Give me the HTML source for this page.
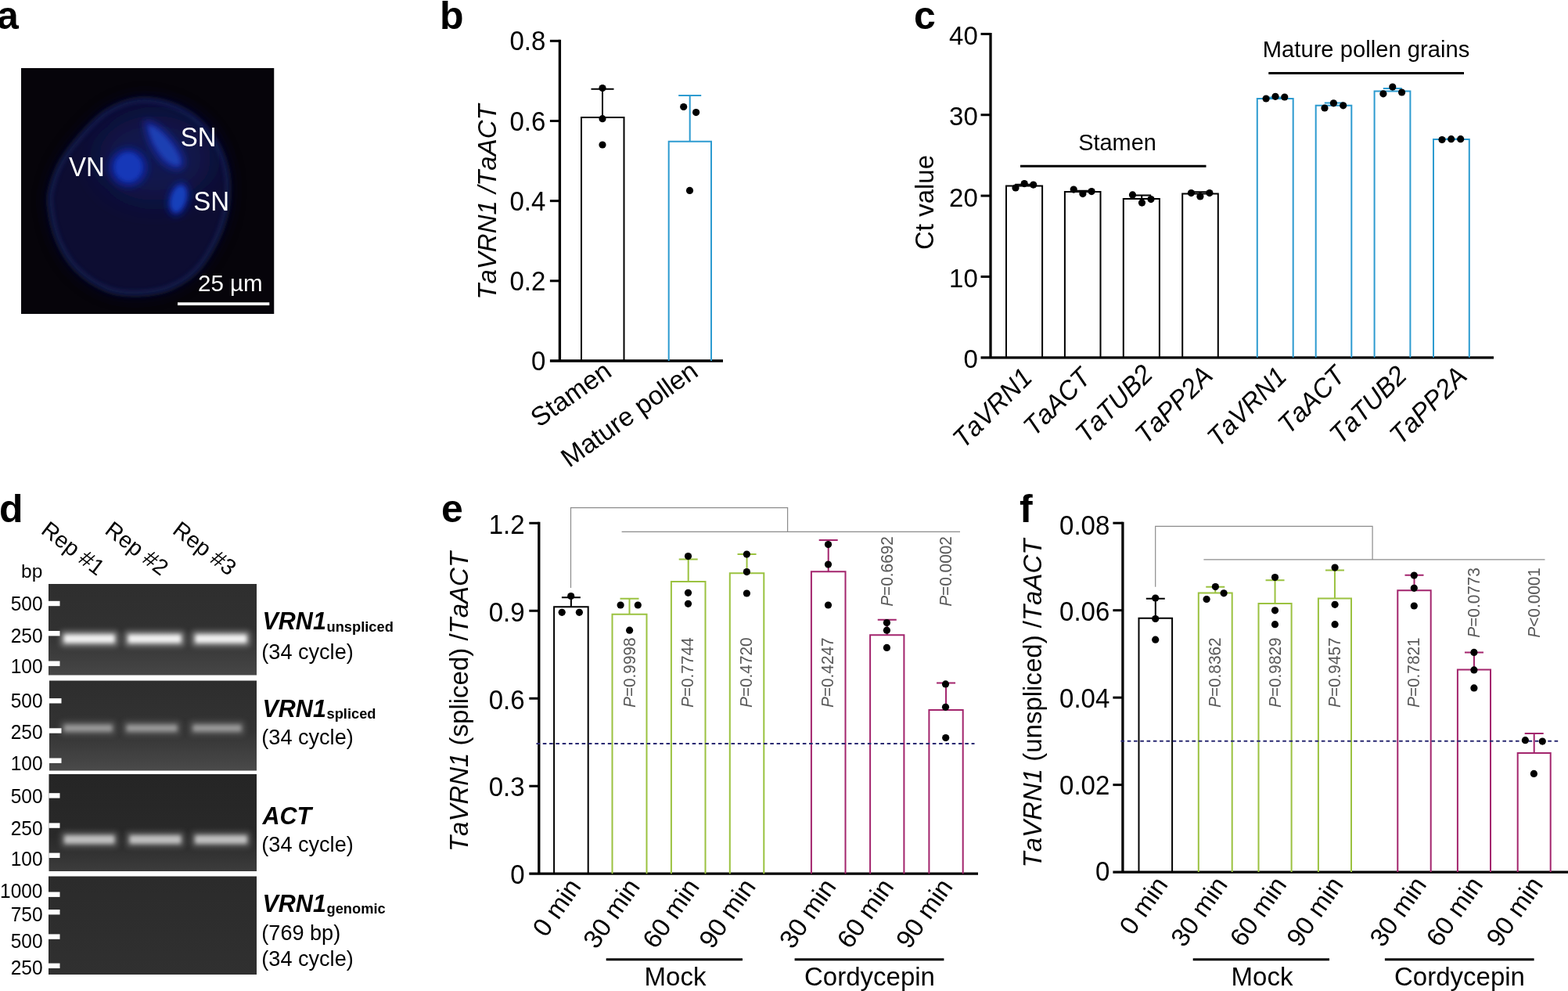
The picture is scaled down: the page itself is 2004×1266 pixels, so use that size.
<!DOCTYPE html>
<html lang="en">
<head>
<meta charset="utf-8">
<title>Figure</title>
<style>
html,body{margin:0;padding:0;background:#fff;}
body{width:2004px;height:1266px;overflow:hidden;}
svg{display:block;font-family:"Liberation Sans", Arial, Helvetica, sans-serif;}
svg text{font-family:"Liberation Sans", Arial, Helvetica, sans-serif;font-kerning:none;}
</style>
</head>
<body>
<svg width="2004" height="1266" viewBox="0 0 2004 1266">
<rect width="2004" height="1266" fill="#fff"/>
<defs>
<filter id="bl2" x="-50%" y="-50%" width="200%" height="200%"><feGaussianBlur stdDeviation="2"/></filter>
<filter id="bl3" x="-50%" y="-50%" width="200%" height="200%"><feGaussianBlur stdDeviation="3.2"/></filter>
<filter id="bl5" x="-50%" y="-50%" width="200%" height="200%"><feGaussianBlur stdDeviation="5"/></filter>
<filter id="bl8" x="-50%" y="-50%" width="200%" height="200%"><feGaussianBlur stdDeviation="9"/></filter>
<filter id="bl16" x="-100%" y="-100%" width="300%" height="300%"><feGaussianBlur stdDeviation="18"/></filter>
<filter id="bl25" x="-50%" y="-50%" width="200%" height="200%"><feGaussianBlur stdDeviation="2.6"/></filter>
<filter id="bl1" x="-50%" y="-50%" width="200%" height="200%"><feGaussianBlur stdDeviation="1.2"/></filter>
<radialGradient id="cellg" cx="0.5" cy="0.55" r="0.52">
<stop offset="0" stop-color="#0b1036"/><stop offset="1" stop-color="#10164a"/>
</radialGradient>
<linearGradient id="gel1" x1="0" y1="0" x2="0" y2="1"><stop offset="0" stop-color="#2e2e2e"/><stop offset="0.5" stop-color="#313131"/><stop offset="1" stop-color="#464646"/></linearGradient>
<linearGradient id="gel2" x1="0" y1="0" x2="0" y2="1"><stop offset="0" stop-color="#2d2d2d"/><stop offset="0.55" stop-color="#333333"/><stop offset="1" stop-color="#4a4a4a"/></linearGradient>
<linearGradient id="gel3" x1="0" y1="0" x2="0" y2="1"><stop offset="0" stop-color="#252525"/><stop offset="0.65" stop-color="#292929"/><stop offset="1" stop-color="#3c3c3c"/></linearGradient>
<linearGradient id="gel4" x1="0" y1="0" x2="0" y2="1"><stop offset="0" stop-color="#2b2b2b"/><stop offset="1" stop-color="#303030"/></linearGradient>
<clipPath id="clipA"><rect x="27" y="87" width="323.5" height="314"/></clipPath>
<clipPath id="clipG1"><rect x="62" y="746" width="266" height="116.5"/></clipPath>
<clipPath id="clipG2"><rect x="63" y="869.5" width="265" height="115"/></clipPath>
<clipPath id="clipG3"><rect x="62.5" y="989" width="265.5" height="124"/></clipPath>
<clipPath id="clipG4"><rect x="62" y="1119.5" width="266" height="125.5"/></clipPath>
</defs>
<text x="-4" y="36.5" font-size="50" font-weight="bold">a</text>
<text x="562" y="36.5" font-size="50" font-weight="bold">b</text>
<text x="1168" y="36.5" font-size="50" font-weight="bold">c</text>
<text x="-1" y="666.5" font-size="50" font-weight="bold">d</text>
<text x="564" y="666.5" font-size="50" font-weight="bold">e</text>
<text x="1303" y="666.5" font-size="50" font-weight="bold">f</text>
<g clip-path="url(#clipA)">
<rect x="27" y="87" width="323.5" height="314" fill="#06040a"/>
<path d="M176.5 128.2C189.9 126.8 205.0 129.4 218.0 134.0C231.0 138.6 244.2 145.9 254.7 155.6C265.2 165.3 274.7 178.5 280.8 192.0C286.9 205.5 290.8 220.4 291.2 236.5C291.6 252.6 289.5 271.2 283.4 288.6C277.3 306.0 265.6 327.8 254.7 340.8C243.8 353.8 231.2 361.2 218.2 366.8C205.2 372.4 190.0 374.3 176.5 374.7C163.0 375.1 150.4 374.6 137.3 369.4C124.3 364.2 108.6 353.8 98.2 343.4C87.8 333.0 80.5 320.3 74.8 306.8C69.1 293.3 65.6 274.2 64.3 262.5C63.0 250.8 64.4 246.1 67.0 236.5C69.6 226.9 73.5 216.1 80.0 205.2C86.5 194.3 96.5 181.7 106.0 171.3C115.5 160.9 125.6 149.8 137.3 142.6C149.1 135.4 163.1 129.6 176.5 128.2Z" fill="#0a0e32" stroke="#0a0e32" stroke-width="10" filter="url(#bl8)" opacity="0.7"/>
<path d="M176.5 128.2C189.9 126.8 205.0 129.4 218.0 134.0C231.0 138.6 244.2 145.9 254.7 155.6C265.2 165.3 274.7 178.5 280.8 192.0C286.9 205.5 290.8 220.4 291.2 236.5C291.6 252.6 289.5 271.2 283.4 288.6C277.3 306.0 265.6 327.8 254.7 340.8C243.8 353.8 231.2 361.2 218.2 366.8C205.2 372.4 190.0 374.3 176.5 374.7C163.0 375.1 150.4 374.6 137.3 369.4C124.3 364.2 108.6 353.8 98.2 343.4C87.8 333.0 80.5 320.3 74.8 306.8C69.1 293.3 65.6 274.2 64.3 262.5C63.0 250.8 64.4 246.1 67.0 236.5C69.6 226.9 73.5 216.1 80.0 205.2C86.5 194.3 96.5 181.7 106.0 171.3C115.5 160.9 125.6 149.8 137.3 142.6C149.1 135.4 163.1 129.6 176.5 128.2Z" fill="#0a0f33" filter="url(#bl2)"/>
<path d="M176.5 128.2C189.9 126.8 205.0 129.4 218.0 134.0C231.0 138.6 244.2 145.9 254.7 155.6C265.2 165.3 274.7 178.5 280.8 192.0C286.9 205.5 290.8 220.4 291.2 236.5C291.6 252.6 289.5 271.2 283.4 288.6C277.3 306.0 265.6 327.8 254.7 340.8C243.8 353.8 231.2 361.2 218.2 366.8C205.2 372.4 190.0 374.3 176.5 374.7C163.0 375.1 150.4 374.6 137.3 369.4C124.3 364.2 108.6 353.8 98.2 343.4C87.8 333.0 80.5 320.3 74.8 306.8C69.1 293.3 65.6 274.2 64.3 262.5C63.0 250.8 64.4 246.1 67.0 236.5C69.6 226.9 73.5 216.1 80.0 205.2C86.5 194.3 96.5 181.7 106.0 171.3C115.5 160.9 125.6 149.8 137.3 142.6C149.1 135.4 163.1 129.6 176.5 128.2Z" fill="none" stroke="#1d2968" stroke-width="4" filter="url(#bl3)" opacity="0.85"/>
<g filter="url(#bl16)"><ellipse cx="198" cy="202" rx="72" ry="54" fill="#1a2468" opacity="0.5"/></g>
<g filter="url(#bl5)">
<ellipse cx="164" cy="214" rx="25" ry="25" fill="#10259a" opacity="0.9"/>
<path d="M188 158 Q203 160 222 185 Q236 204 231 212 Q222 217 207 203 Q190 182 188 158Z" fill="#152a9c" opacity="0.9" stroke="#152a9c" stroke-width="8"/>
<ellipse cx="228" cy="254" rx="22" ry="13" fill="#10259a" opacity="0.9" transform="rotate(-75 228 254)"/>
</g>
<g filter="url(#bl25)">
<ellipse cx="164" cy="213.5" rx="17.5" ry="18.5" fill="#1238b8"/>
<path d="M190 161 Q203 163 220 186 Q232 203 229 210 Q222 214 209 201 Q193 182 190 161Z" fill="#1c40b2"/>
<ellipse cx="228" cy="254" rx="17" ry="9" fill="#1640ba" transform="rotate(-75 228 254)"/>
</g>
</g>
<text font-size="33" fill="#fff" transform="translate(230.8 186.8) scale(1 1.04)">SN</text>
<text font-size="33" fill="#fff" transform="translate(88 224.5) scale(1 1.04)">VN</text>
<text font-size="33" fill="#fff" transform="translate(247.2 269.2) scale(1 1.04)">SN</text>
<text x="253" y="372.3" font-size="29.5" fill="#fff">25 µm</text>
<rect x="227" y="386.3" width="117.3" height="3.8" fill="#fff"/>
<path d="M715.4 50.8V461" stroke="#000" stroke-width="3.3" fill="none"/>
<text font-size="33" text-anchor="end" transform="translate(697.3 473.0) scale(1 1.04)">0</text>
<line x1="702.9" y1="358.825" x2="715.4" y2="358.825" stroke="#000" stroke-width="3" />
<text font-size="33" text-anchor="end" transform="translate(697.3 370.8) scale(1 1.04)">0.2</text>
<line x1="702.9" y1="256.65" x2="715.4" y2="256.65" stroke="#000" stroke-width="3" />
<text font-size="33" text-anchor="end" transform="translate(697.3 268.6) scale(1 1.04)">0.4</text>
<line x1="702.9" y1="154.47500000000002" x2="715.4" y2="154.47500000000002" stroke="#000" stroke-width="3" />
<text font-size="33" text-anchor="end" transform="translate(697.3 166.5) scale(1 1.04)">0.6</text>
<line x1="702.9" y1="52.30000000000001" x2="715.4" y2="52.30000000000001" stroke="#000" stroke-width="3" />
<text font-size="33" text-anchor="end" transform="translate(697.3 64.3) scale(1 1.04)">0.8</text>
<line x1="702.9" y1="461" x2="924" y2="461" stroke="#000" stroke-width="3.3" />
<path d="M743 461V150H797.5V461" fill="none" stroke="#000" stroke-width="2"/>
<path d="M854.7 461V180.7H909V461" fill="none" stroke="#2d9bd0" stroke-width="2"/>
<path d="M755.5 113.7H784.5M770 113.7V150" fill="none" stroke="#000" stroke-width="2"/>
<path d="M867.2 122H896.2M881.7 122V180.7" fill="none" stroke="#2d9bd0" stroke-width="2"/>
<circle cx="770" cy="112.5" r="4.6"/>
<circle cx="770" cy="151.7" r="4.6"/>
<circle cx="770" cy="185" r="4.6"/>
<circle cx="873.7" cy="136.5" r="4.6"/>
<circle cx="889.6" cy="143.6" r="4.6"/>
<circle cx="881.5" cy="243.4" r="4.6"/>
<text transform="translate(633.5 258) rotate(-90) scale(1 1.035)" text-anchor="middle" font-size="33"><tspan font-style="italic">TaVRN1 /TaACT</tspan></text>
<text font-size="33.8" text-anchor="end" transform="translate(783.7 479) rotate(-35.5)">Stamen</text>
<text font-size="33.8" text-anchor="end" transform="translate(894.2 479) rotate(-35.5)">Mature pollen</text>
<path d="M1266 41.9V456.8" stroke="#000" stroke-width="3.3" fill="none"/>
<text font-size="33" text-anchor="end" transform="translate(1249.8 470.2) scale(1 1.01)">0</text>
<line x1="1253.5" y1="353.45" x2="1266" y2="353.45" stroke="#000" stroke-width="3" />
<text font-size="33" text-anchor="end" transform="translate(1249.8 366.8) scale(1 1.01)">10</text>
<line x1="1253.5" y1="250.1" x2="1266" y2="250.1" stroke="#000" stroke-width="3" />
<text font-size="33" text-anchor="end" transform="translate(1249.8 263.5) scale(1 1.01)">20</text>
<line x1="1253.5" y1="146.75" x2="1266" y2="146.75" stroke="#000" stroke-width="3" />
<text font-size="33" text-anchor="end" transform="translate(1249.8 160.2) scale(1 1.01)">30</text>
<line x1="1253.5" y1="43.39999999999998" x2="1266" y2="43.39999999999998" stroke="#000" stroke-width="3" />
<text font-size="33" text-anchor="end" transform="translate(1249.8 56.8) scale(1 1.01)">40</text>
<line x1="1253.5" y1="456.8" x2="1909" y2="456.8" stroke="#000" stroke-width="3.3" />
<path d="M1286 456.8V237.6H1332.1V456.8" fill="none" stroke="#000" stroke-width="2"/>
<path d="M1360.9 456.8V245.1H1406.5V456.8" fill="none" stroke="#000" stroke-width="2"/>
<path d="M1435.8 456.8V254.1H1481.9V456.8" fill="none" stroke="#000" stroke-width="2"/>
<path d="M1511.2 456.8V247.6H1556.8V456.8" fill="none" stroke="#000" stroke-width="2"/>
<path d="M1606.8 456.8V126H1652.7V456.8" fill="none" stroke="#2d9bd0" stroke-width="2"/>
<path d="M1681.7 456.8V134.8H1727.3V456.8" fill="none" stroke="#2d9bd0" stroke-width="2"/>
<path d="M1756.6 456.8V116.6H1802.4V456.8" fill="none" stroke="#2d9bd0" stroke-width="2"/>
<path d="M1832 456.8V178H1877.8V456.8" fill="none" stroke="#2d9bd0" stroke-width="2"/>
<path d="M1297.3 235.8H1321.3M1309.3 235.8V237.6" fill="none" stroke="#000" stroke-width="2"/>
<path d="M1372 243.8H1396M1384 243.8V245.1" fill="none" stroke="#000" stroke-width="2"/>
<path d="M1447.2 249.5H1471.2M1459.2 249.5V254.1" fill="none" stroke="#000" stroke-width="2"/>
<path d="M1522.3 245.3H1546.3M1534.3 245.3V247.6" fill="none" stroke="#000" stroke-width="2"/>
<path d="M1618 124.5H1642M1630 124.5V126" fill="none" stroke="#2d9bd0" stroke-width="2"/>
<path d="M1692.8 131.5H1716.8M1704.8 131.5V134.8" fill="none" stroke="#2d9bd0" stroke-width="2"/>
<path d="M1767.8 113H1791.8M1779.8 113V116.6" fill="none" stroke="#2d9bd0" stroke-width="2"/>
<path d="M1843.2 177.5H1867.2M1855.2 177.5V178" fill="none" stroke="#2d9bd0" stroke-width="2"/>
<circle cx="1298" cy="240" r="4.6"/>
<circle cx="1309.2" cy="234.6" r="4.6"/>
<circle cx="1320.7" cy="236.1" r="4.6"/>
<circle cx="1372.2" cy="242.1" r="4.6"/>
<circle cx="1383.9" cy="247.6" r="4.6"/>
<circle cx="1395.1" cy="244.6" r="4.6"/>
<circle cx="1447.5" cy="248.9" r="4.6"/>
<circle cx="1459.5" cy="259.1" r="4.6"/>
<circle cx="1471" cy="254.6" r="4.6"/>
<circle cx="1522.4" cy="246.6" r="4.6"/>
<circle cx="1533.9" cy="250.9" r="4.6"/>
<circle cx="1545.9" cy="246.6" r="4.6"/>
<circle cx="1618.1" cy="126" r="4.6"/>
<circle cx="1630" cy="123.3" r="4.6"/>
<circle cx="1641.8" cy="124" r="4.6"/>
<circle cx="1693" cy="138" r="4.6"/>
<circle cx="1704.4" cy="131.8" r="4.6"/>
<circle cx="1716.7" cy="134.8" r="4.6"/>
<circle cx="1767.9" cy="119.8" r="4.6"/>
<circle cx="1779.8" cy="111" r="4.6"/>
<circle cx="1791.6" cy="118" r="4.6"/>
<circle cx="1843" cy="178.5" r="4.6"/>
<circle cx="1854.7" cy="177.7" r="4.6"/>
<circle cx="1866.7" cy="177.7" r="4.6"/>
<text x="1428" y="191.7" font-size="28.9" text-anchor="middle">Stamen</text>
<line x1="1304" y1="212.2" x2="1541.5" y2="212.2" stroke="#000" stroke-width="3" />
<text x="1746" y="73.2" font-size="29.2" text-anchor="middle">Mature pollen grains</text>
<line x1="1621.3" y1="93.6" x2="1871" y2="93.6" stroke="#000" stroke-width="3" />
<text transform="translate(1193.3 258.5) rotate(-90) scale(1 1.03)" text-anchor="middle" font-size="33">Ct value</text>
<text font-size="33" text-anchor="end" font-style="italic" transform="translate(1321.2 484.6) rotate(-45) scale(1 1.04)">TaVRN1</text>
<text font-size="33" text-anchor="end" font-style="italic" transform="translate(1395.9 484.6) rotate(-45) scale(1 1.04)">TaACT</text>
<text font-size="33" text-anchor="end" font-style="italic" transform="translate(1475.3 480.3) rotate(-45) scale(1 1.04)">TaTUB2</text>
<text font-size="33" text-anchor="end" font-style="italic" transform="translate(1551.7 481.9) rotate(-45) scale(1 1.04)">TaPP2A</text>
<text font-size="33" text-anchor="end" font-style="italic" transform="translate(1646.5 483.1) rotate(-45) scale(1 1.04)">TaVRN1</text>
<text font-size="33" text-anchor="end" font-style="italic" transform="translate(1721.1 482.0) rotate(-45) scale(1 1.04)">TaACT</text>
<text font-size="33" text-anchor="end" font-style="italic" transform="translate(1800.1 481.8) rotate(-45) scale(1 1.04)">TaTUB2</text>
<text font-size="33" text-anchor="end" font-style="italic" transform="translate(1876.9 482.5) rotate(-45) scale(1 1.04)">TaPP2A</text>
<rect x="62" y="746" width="266" height="116.5" fill="url(#gel1)"/>
<rect x="63" y="869.5" width="265" height="115" fill="url(#gel2)"/>
<rect x="62.5" y="989" width="265.5" height="124" fill="url(#gel3)"/>
<rect x="62" y="1119.5" width="266" height="125.5" fill="url(#gel4)"/>
<g clip-path="url(#clipG1)">
<rect x="76.6" y="805.5" width="75.1" height="21.0" rx="5" fill="#999" opacity="0.6" filter="url(#bl3)"/>
<rect x="81.6" y="810.5" width="65.1" height="11.0" rx="3" fill="#f0f0f0" opacity="1.0" filter="url(#bl25)"/>
<rect x="158.5" y="805.5" width="78.1" height="21.0" rx="5" fill="#999" opacity="0.6" filter="url(#bl3)"/>
<rect x="163.5" y="810.5" width="68.1" height="11.0" rx="3" fill="#f0f0f0" opacity="1.0" filter="url(#bl25)"/>
<rect x="244.4" y="805.5" width="76.1" height="21.0" rx="5" fill="#999" opacity="0.6" filter="url(#bl3)"/>
<rect x="249.4" y="810.5" width="66.1" height="11.0" rx="3" fill="#f0f0f0" opacity="1.0" filter="url(#bl25)"/>
</g>
<g clip-path="url(#clipG2)">
<rect x="76.6" y="920.8" width="72.1" height="19.0" rx="5" fill="#666" opacity="0.54" filter="url(#bl3)"/>
<rect x="81.6" y="925.8" width="62.099999999999994" height="9.0" rx="3" fill="#a0a0a0" opacity="0.9" filter="url(#bl25)"/>
<rect x="156.6" y="920.8" width="75.0" height="19.0" rx="5" fill="#666" opacity="0.54" filter="url(#bl3)"/>
<rect x="161.6" y="925.8" width="65.0" height="9.0" rx="3" fill="#a0a0a0" opacity="0.9" filter="url(#bl25)"/>
<rect x="241.4" y="920.8" width="72.20000000000002" height="19.0" rx="5" fill="#666" opacity="0.54" filter="url(#bl3)"/>
<rect x="246.4" y="925.8" width="62.20000000000002" height="9.0" rx="3" fill="#a0a0a0" opacity="0.9" filter="url(#bl25)"/>
</g>
<g clip-path="url(#clipG3)">
<rect x="77" y="1062.0" width="74.5" height="21.0" rx="5" fill="#707070" opacity="0.57" filter="url(#bl3)"/>
<rect x="82" y="1067.0" width="64.5" height="11.0" rx="3" fill="#c4c4c4" opacity="0.95" filter="url(#bl25)"/>
<rect x="160.5" y="1062.0" width="76.0" height="21.0" rx="5" fill="#707070" opacity="0.57" filter="url(#bl3)"/>
<rect x="165.5" y="1067.0" width="66.0" height="11.0" rx="3" fill="#c4c4c4" opacity="0.95" filter="url(#bl25)"/>
<rect x="244" y="1062.0" width="77" height="21.0" rx="5" fill="#707070" opacity="0.57" filter="url(#bl3)"/>
<rect x="249" y="1067.0" width="67" height="11.0" rx="3" fill="#c4c4c4" opacity="0.95" filter="url(#bl25)"/>
</g>
<rect x="62" y="767.8" width="14.5" height="6.4" fill="#fff"/>
<text font-size="24.5" text-anchor="end" transform="translate(54.5 779.8) scale(1 1.04)">500</text>
<rect x="62" y="806.0" width="14.5" height="6.4" fill="#fff"/>
<text font-size="24.5" text-anchor="end" transform="translate(54.5 820.9) scale(1 1.04)">250</text>
<rect x="62" y="844.5" width="14.5" height="6.4" fill="#fff"/>
<text font-size="24.5" text-anchor="end" transform="translate(54.5 859.6) scale(1 1.04)">100</text>
<rect x="63" y="892.0999999999999" width="15.5" height="6.4" fill="#fff"/>
<text font-size="24.5" text-anchor="end" transform="translate(54.5 903.6) scale(1 1.04)">500</text>
<rect x="63" y="930.3" width="15.5" height="6.4" fill="#fff"/>
<text font-size="24.5" text-anchor="end" transform="translate(54.5 943.5) scale(1 1.04)">250</text>
<rect x="63" y="968.5" width="15.5" height="6.4" fill="#fff"/>
<text font-size="24.5" text-anchor="end" transform="translate(54.5 983.5) scale(1 1.04)">100</text>
<rect x="62.5" y="1013.1999999999999" width="14" height="6.4" fill="#fff"/>
<text font-size="24.5" text-anchor="end" transform="translate(54.5 1026.1) scale(1 1.04)">500</text>
<rect x="62.5" y="1051.3999999999999" width="14" height="6.4" fill="#fff"/>
<text font-size="24.5" text-anchor="end" transform="translate(54.5 1067.3) scale(1 1.04)">250</text>
<rect x="62.5" y="1089.6" width="14" height="6.4" fill="#fff"/>
<text font-size="24.5" text-anchor="end" transform="translate(54.5 1106) scale(1 1.04)">100</text>
<rect x="62" y="1139.5" width="14.5" height="6.4" fill="#fff"/>
<text font-size="24.5" text-anchor="end" transform="translate(54.5 1147.2) scale(1 1.04)">1000</text>
<rect x="62" y="1162.0" width="14.5" height="6.4" fill="#fff"/>
<text font-size="24.5" text-anchor="end" transform="translate(54.5 1177.2) scale(1 1.04)">750</text>
<rect x="62" y="1193.3999999999999" width="14.5" height="6.4" fill="#fff"/>
<text font-size="24.5" text-anchor="end" transform="translate(54.5 1210.9) scale(1 1.04)">500</text>
<rect x="62" y="1230.6" width="14.5" height="6.4" fill="#fff"/>
<text font-size="24.5" text-anchor="end" transform="translate(54.5 1244.6) scale(1 1.04)">250</text>
<text x="27" y="737.5" font-size="24.5">bp</text>
<text font-size="28.6" transform="translate(50.9 680.3) rotate(37.5)">Rep #1</text>
<text font-size="28.6" transform="translate(132.5 680.3) rotate(37.5)">Rep #2</text>
<text font-size="28.6" transform="translate(219.1 680.3) rotate(37.5)">Rep #3</text>
<text transform="translate(335.5 804.3) scale(1 1.04)" font-size="30.5" font-weight="bold"><tspan font-style="italic">VRN1</tspan><tspan font-size="18.3" dy="2.3" dx="0.7">unspliced</tspan></text>
<text x="334.3" y="842.4" font-size="27.1">(34 cycle)</text>
<text transform="translate(335.5 916) scale(1 1.04)" font-size="30.5" font-weight="bold"><tspan font-style="italic">VRN1</tspan><tspan font-size="18.3" dy="2.3" dx="0.7">spliced</tspan></text>
<text x="334.3" y="950.7" font-size="27.1">(34 cycle)</text>
<text transform="translate(335.5 1052.6) scale(1 1.04)" font-size="30.5" font-weight="bold"><tspan font-style="italic">ACT</tspan><tspan font-size="18.3" dy="2.3" dx="0.7"></tspan></text>
<text x="334.3" y="1088.0" font-size="27.1">(34 cycle)</text>
<text transform="translate(335.5 1164.7) scale(1 1.04)" font-size="30.5" font-weight="bold"><tspan font-style="italic">VRN1</tspan><tspan font-size="18.3" dy="2.3" dx="0.7">genomic</tspan></text>
<text x="334.3" y="1200.6" font-size="27.1">(769 bp)</text>
<text x="334.3" y="1233.5" font-size="27.1">(34 cycle)</text>
<path d="M688.8 666.8V1116.2" stroke="#000" stroke-width="3.3" fill="none"/>
<text font-size="33" text-anchor="end" transform="translate(670.5 1129.4) scale(1 1.04)">0</text>
<line x1="676.3" y1="1004.225" x2="688.8" y2="1004.225" stroke="#000" stroke-width="3" />
<text font-size="33" text-anchor="end" transform="translate(670.5 1017.4) scale(1 1.04)">0.3</text>
<line x1="676.3" y1="892.25" x2="688.8" y2="892.25" stroke="#000" stroke-width="3" />
<text font-size="33" text-anchor="end" transform="translate(670.5 905.5) scale(1 1.04)">0.6</text>
<line x1="676.3" y1="780.275" x2="688.8" y2="780.275" stroke="#000" stroke-width="3" />
<text font-size="33" text-anchor="end" transform="translate(670.5 793.5) scale(1 1.04)">0.9</text>
<line x1="676.3" y1="668.3" x2="688.8" y2="668.3" stroke="#000" stroke-width="3" />
<text font-size="33" text-anchor="end" transform="translate(670.5 681.5) scale(1 1.04)">1.2</text>
<line x1="676.3" y1="1116.2" x2="1250" y2="1116.2" stroke="#000" stroke-width="3.3" />
<path d="M729.5 751V648.7H1006.6V679.4M794.6 679.4H1227" fill="none" stroke="#8c8c8c" stroke-width="1.2"/>
<path d="M708.1 1116.2V775.3H751.7V1116.2" fill="none" stroke="#000" stroke-width="2"/>
<path d="M717.9000000000001 763.3H741.9000000000001M729.9000000000001 763.3V775.3" fill="none" stroke="#000" stroke-width="2"/>
<path d="M782.5 1116.2V784.8H826.5V1116.2" fill="none" stroke="#9bc240" stroke-width="2"/>
<path d="M792.5 764.8H816.5M804.5 764.8V784.8" fill="none" stroke="#9bc240" stroke-width="2"/>
<path d="M857.9 1116.2V743H901.5V1116.2" fill="none" stroke="#9bc240" stroke-width="2"/>
<path d="M867.7 714.4H891.7M879.7 714.4V743" fill="none" stroke="#9bc240" stroke-width="2"/>
<path d="M932.8 1116.2V732.3H976.3V1116.2" fill="none" stroke="#9bc240" stroke-width="2"/>
<path d="M942.55 707.9H966.55M954.55 707.9V732.3" fill="none" stroke="#9bc240" stroke-width="2"/>
<path d="M1036.9 1116.2V730.3H1080.5V1116.2" fill="none" stroke="#a3256d" stroke-width="2"/>
<path d="M1046.7 690.1H1070.7M1058.7 690.1V730.3" fill="none" stroke="#a3256d" stroke-width="2"/>
<path d="M1112.1 1116.2V811.2H1155.4V1116.2" fill="none" stroke="#a3256d" stroke-width="2"/>
<path d="M1121.75 791.7H1145.75M1133.75 791.7V811.2" fill="none" stroke="#a3256d" stroke-width="2"/>
<path d="M1187.4 1116.2V907H1230.7V1116.2" fill="none" stroke="#a3256d" stroke-width="2"/>
<path d="M1197.0500000000002 872.4H1221.0500000000002M1209.0500000000002 872.4V907" fill="none" stroke="#a3256d" stroke-width="2"/>
<line x1="685.5" y1="950.1" x2="1245.5" y2="950.1" stroke="#2a2a72" stroke-width="2" stroke-dasharray="4.6 3.7"/>
<circle cx="729.7" cy="761.5" r="4.6"/>
<circle cx="718.2" cy="782.3" r="4.6"/>
<circle cx="740.4" cy="782.3" r="4.6"/>
<circle cx="793.1" cy="773" r="4.6"/>
<circle cx="815.3" cy="773" r="4.6"/>
<circle cx="804.6" cy="805.2" r="4.6"/>
<circle cx="879.5" cy="710.6" r="4.6"/>
<circle cx="879.5" cy="757.3" r="4.6"/>
<circle cx="879.5" cy="771.3" r="4.6"/>
<circle cx="954.4" cy="708.1" r="4.6"/>
<circle cx="954.4" cy="730.6" r="4.6"/>
<circle cx="954.4" cy="758" r="4.6"/>
<circle cx="1058.5" cy="695.6" r="4.6"/>
<circle cx="1058.5" cy="721.1" r="4.6"/>
<circle cx="1058.5" cy="773" r="4.6"/>
<circle cx="1133.4" cy="795.5" r="4.6"/>
<circle cx="1133.4" cy="805.2" r="4.6"/>
<circle cx="1133.4" cy="827.4" r="4.6"/>
<circle cx="1208.5" cy="873.9" r="4.6"/>
<circle cx="1208.5" cy="903.3" r="4.6"/>
<circle cx="1208.7" cy="942.5" r="4.6"/>
<text transform="translate(812.0 904) rotate(-90) scale(1 1.04)" font-size="20.8" fill="#5a5a5a"><tspan font-style="italic">P</tspan>=0.9998</text>
<text transform="translate(886.4 904) rotate(-90) scale(1 1.04)" font-size="20.8" fill="#5a5a5a"><tspan font-style="italic">P</tspan>=0.7744</text>
<text transform="translate(960.8 904) rotate(-90) scale(1 1.04)" font-size="20.8" fill="#5a5a5a"><tspan font-style="italic">P</tspan>=0.4720</text>
<text transform="translate(1064.9 904) rotate(-90) scale(1 1.04)" font-size="20.8" fill="#5a5a5a"><tspan font-style="italic">P</tspan>=0.4247</text>
<text transform="translate(1141.0 774.8) rotate(-90) scale(1 1.04)" font-size="20.8" fill="#5a5a5a"><tspan font-style="italic">P</tspan>=0.6692</text>
<text transform="translate(1215.9 774.8) rotate(-90) scale(1 1.04)" font-size="20.8" fill="#5a5a5a"><tspan font-style="italic">P</tspan>=0.0002</text>
<text transform="translate(597.8 896.5) rotate(-90) scale(1 1.035)" text-anchor="middle" font-size="33"><tspan font-style="italic">TaVRN1</tspan> (spliced) /<tspan font-style="italic">TaACT</tspan></text>
<text font-size="33" text-anchor="end" transform="translate(743.9 1132.6) rotate(-55)">0 min</text>
<text font-size="33" text-anchor="end" transform="translate(819.1 1132.6) rotate(-55)">30 min</text>
<text font-size="33" text-anchor="end" transform="translate(895.1 1132.6) rotate(-55)">60 min</text>
<text font-size="33" text-anchor="end" transform="translate(967.0 1132.6) rotate(-55)">90 min</text>
<text font-size="33" text-anchor="end" transform="translate(1069.9 1132.6) rotate(-55)">30 min</text>
<text font-size="33" text-anchor="end" transform="translate(1143.5 1132.6) rotate(-55)">60 min</text>
<text font-size="33" text-anchor="end" transform="translate(1218.9 1132.6) rotate(-55)">90 min</text>
<line x1="774.7" y1="1225.7" x2="949" y2="1225.7" stroke="#000" stroke-width="3" />
<text x="863" y="1258.6" font-size="33" text-anchor="middle">Mock</text>
<line x1="1015.6" y1="1225.7" x2="1206.4" y2="1225.7" stroke="#000" stroke-width="3" />
<text x="1111.5" y="1258.6" font-size="33" text-anchor="middle">Cordycepin</text>
<path d="M1434.9 666.7V1114.1" stroke="#000" stroke-width="3.3" fill="none"/>
<text font-size="33" text-anchor="end" transform="translate(1418.3 1125.3) scale(1 1.04)">0</text>
<line x1="1422.4" y1="1002.625" x2="1434.9" y2="1002.625" stroke="#000" stroke-width="3" />
<text font-size="33" text-anchor="end" transform="translate(1418.3 1014.6) scale(1 1.04)">0.02</text>
<line x1="1422.4" y1="891.15" x2="1434.9" y2="891.15" stroke="#000" stroke-width="3" />
<text font-size="33" text-anchor="end" transform="translate(1418.3 903.9) scale(1 1.04)">0.04</text>
<line x1="1422.4" y1="779.675" x2="1434.9" y2="779.675" stroke="#000" stroke-width="3" />
<text font-size="33" text-anchor="end" transform="translate(1418.3 793.2) scale(1 1.04)">0.06</text>
<line x1="1422.4" y1="668.2" x2="1434.9" y2="668.2" stroke="#000" stroke-width="3" />
<text font-size="33" text-anchor="end" transform="translate(1418.3 682.5) scale(1 1.04)">0.08</text>
<line x1="1422.4" y1="1114.1" x2="2004" y2="1114.1" stroke="#000" stroke-width="3.3" />
<path d="M1476.7 749.8V672.4H1754.1V714.9M1538.4 714.9H1974.5" fill="none" stroke="#8c8c8c" stroke-width="1.2"/>
<path d="M1455.5 1114.1V789.7H1498.1V1114.1" fill="none" stroke="#000" stroke-width="2"/>
<path d="M1464.8 764.8H1488.8M1476.8 764.8V789.7" fill="none" stroke="#000" stroke-width="2"/>
<path d="M1531.8 1114.1V757.5H1574.7V1114.1" fill="none" stroke="#9bc240" stroke-width="2"/>
<path d="M1541.25 749.8H1565.25M1553.25 749.8V757.5" fill="none" stroke="#9bc240" stroke-width="2"/>
<path d="M1608.5 1114.1V771H1650.6V1114.1" fill="none" stroke="#9bc240" stroke-width="2"/>
<path d="M1617.55 741.3H1641.55M1629.55 741.3V771" fill="none" stroke="#9bc240" stroke-width="2"/>
<path d="M1684.9 1114.1V764.5H1727.0V1114.1" fill="none" stroke="#9bc240" stroke-width="2"/>
<path d="M1693.95 728.6H1717.95M1705.95 728.6V764.5" fill="none" stroke="#9bc240" stroke-width="2"/>
<path d="M1786.3 1114.1V754.3H1828.7V1114.1" fill="none" stroke="#a3256d" stroke-width="2"/>
<path d="M1795.5 734.8H1819.5M1807.5 734.8V754.3" fill="none" stroke="#a3256d" stroke-width="2"/>
<path d="M1862.9 1114.1V855.6H1905.0V1114.1" fill="none" stroke="#a3256d" stroke-width="2"/>
<path d="M1871.95 833.4H1895.95M1883.95 833.4V855.6" fill="none" stroke="#a3256d" stroke-width="2"/>
<path d="M1939.7 1114.1V962.1H1981.7V1114.1" fill="none" stroke="#a3256d" stroke-width="2"/>
<path d="M1948.7 937H1972.7M1960.7 937V962.1" fill="none" stroke="#a3256d" stroke-width="2"/>
<line x1="1432.5" y1="946.8" x2="1992" y2="946.8" stroke="#2a2a72" stroke-width="2" stroke-dasharray="4.6 3.67"/>
<circle cx="1476.7" cy="764" r="4.6"/>
<circle cx="1476.7" cy="790.5" r="4.6"/>
<circle cx="1476.7" cy="817.2" r="4.6"/>
<circle cx="1542.1" cy="765.5" r="4.6"/>
<circle cx="1553.4" cy="749.6" r="4.6"/>
<circle cx="1564.1" cy="757.8" r="4.6"/>
<circle cx="1629.5" cy="737.6" r="4.6"/>
<circle cx="1629.5" cy="779.8" r="4.6"/>
<circle cx="1629.5" cy="797.7" r="4.6"/>
<circle cx="1706.1" cy="725.1" r="4.6"/>
<circle cx="1706.1" cy="772.3" r="4.6"/>
<circle cx="1706.1" cy="797.7" r="4.6"/>
<circle cx="1807.3" cy="735.1" r="4.6"/>
<circle cx="1807.3" cy="751.3" r="4.6"/>
<circle cx="1807.3" cy="774" r="4.6"/>
<circle cx="1883.9" cy="833.4" r="4.6"/>
<circle cx="1883.9" cy="855.9" r="4.6"/>
<circle cx="1883.9" cy="878.9" r="4.6"/>
<circle cx="1949.4" cy="945.7" r="4.6"/>
<circle cx="1971.3" cy="947.1" r="4.6"/>
<circle cx="1960.4" cy="988.4" r="4.6"/>
<text transform="translate(1560.2 904) rotate(-90) scale(1 1.04)" font-size="20.8" fill="#5a5a5a"><tspan font-style="italic">P</tspan>=0.8362</text>
<text transform="translate(1636.9 904) rotate(-90) scale(1 1.04)" font-size="20.8" fill="#5a5a5a"><tspan font-style="italic">P</tspan>=0.9829</text>
<text transform="translate(1713.0 904) rotate(-90) scale(1 1.04)" font-size="20.8" fill="#5a5a5a"><tspan font-style="italic">P</tspan>=0.9457</text>
<text transform="translate(1814.2 904) rotate(-90) scale(1 1.04)" font-size="20.8" fill="#5a5a5a"><tspan font-style="italic">P</tspan>=0.7821</text>
<text transform="translate(1891.1000000000001 814.7) rotate(-90) scale(1 1.04)" font-size="20.8" fill="#5a5a5a"><tspan font-style="italic">P</tspan>=0.0773</text>
<text transform="translate(1967.7 814.7) rotate(-90) scale(1 1.04)" font-size="20.8" fill="#5a5a5a"><tspan font-style="italic">P</tspan>&lt;0.0001</text>
<text transform="translate(1330.8 898.5) rotate(-90) scale(1 1.035)" text-anchor="middle" font-size="33"><tspan font-style="italic">TaVRN1</tspan> (unspliced) /<tspan font-style="italic">TaACT</tspan></text>
<text font-size="33" text-anchor="end" transform="translate(1493.8 1130.3) rotate(-55)">0 min</text>
<text font-size="33" text-anchor="end" transform="translate(1570.0 1130.3) rotate(-55)">30 min</text>
<text font-size="33" text-anchor="end" transform="translate(1645.5 1130.3) rotate(-55)">60 min</text>
<text font-size="33" text-anchor="end" transform="translate(1718.0 1130.3) rotate(-55)">90 min</text>
<text font-size="33" text-anchor="end" transform="translate(1824.4 1130.3) rotate(-55)">30 min</text>
<text font-size="33" text-anchor="end" transform="translate(1896.5 1130.3) rotate(-55)">60 min</text>
<text font-size="33" text-anchor="end" transform="translate(1973.3 1130.3) rotate(-55)">90 min</text>
<line x1="1524.7" y1="1225.7" x2="1699" y2="1225.7" stroke="#000" stroke-width="3" />
<text x="1613" y="1258.6" font-size="33" text-anchor="middle">Mock</text>
<line x1="1769.9" y1="1225.7" x2="1960.6" y2="1225.7" stroke="#000" stroke-width="3" />
<text x="1865.5" y="1258.6" font-size="33" text-anchor="middle">Cordycepin</text>
</svg>
</body>
</html>
